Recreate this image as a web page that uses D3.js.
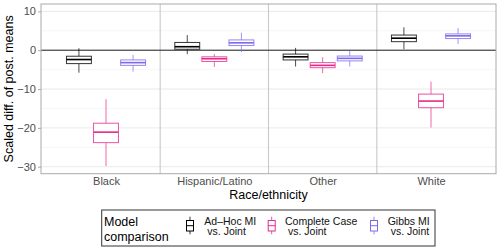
<!DOCTYPE html>
<html>
<head>
<meta charset="utf-8">
<script src="https://d3js.org/d3.v7.min.js"></script>
<style>
  body { margin: 0; background: #fff; }
  text { font-family: "Liberation Sans", Arial, sans-serif; }
</style>
</head>
<body>
<script>
    // categories and series
    var races = ["Black", "Hispanic/Latino", "Other", "White"];
    var models = ["Ad\u2013Hoc MI", "Complete Case", "Gibbs MI"];
    var modelColors = ["#000000", "#e7298a", "#7b68ee"];

    // box stats per race: [lower whisker, q1, median, q3, upper whisker]
    var adHoc = [[-5.8, -3.45, -2.4, -1.55, 0.5],
                 [-1.0, 0.25, 0.9, 2.0, 3.9],
                 [-4.2, -2.5, -1.7, -1.0, 0.6],
                 [0.25, 2.2, 3.1, 3.9, 5.9]];
    var completeCase = [[-29.8, -23.8, -21.1, -18.8, -12.6],
                        [-4.3, -2.9, -2.2, -1.7, -1.0],
                        [-5.9, -4.5, -3.9, -3.2, -1.8],
                        [-19.9, -14.8, -13.1, -11.3, -8.1]];
    var gibbs = [[-5.5, -3.9, -3.2, -2.5, -1.2],
                 [-0.5, 1.2, 1.9, 2.65, 4.5],
                 [-4.2, -2.75, -2.1, -1.5, -0.2],
                 [1.6, 3.0, 3.7, 4.2, 5.7]];
    var seriesStats = [adHoc, completeCase, gibbs];

    var yTicks = [-30, -20, -10, 0, 10];
    var yMinor = [-25, -15, -5, 5];

    var W = 500, H = 250;
    var pLeft = 41, pRight = 496, pTop = 4, pBottom = 173.7;

    var svg = d3.select("body").append("svg")
        .attr("width", W)
        .attr("height", H);

    var x = d3.scalePoint()
        .domain(races)
        .range([pLeft, pRight])
        .padding(0.6);
    var y = d3.scaleLinear()
        .domain([-31.8, 11.9])
        .range([pBottom, pTop]);

    var step = x.step();
    var dodge = d3.scaleBand().domain(models).range([-0.375 * step, 0.375 * step]);
    var boxW = 0.23 * step;

    // grid
    svg.append("g").selectAll("line").data(yMinor).enter().append("line")
        .attr("x1", pLeft).attr("x2", pRight)
        .attr("y1", function (d) { return y(d); })
        .attr("y2", function (d) { return y(d); })
        .style("stroke", "#f0f0f0").style("stroke-width", 0.6);
    svg.append("g").selectAll("line").data(yTicks).enter().append("line")
        .attr("x1", pLeft).attr("x2", pRight)
        .attr("y1", function (d) { return y(d); })
        .attr("y2", function (d) { return y(d); })
        .style("stroke", "#e3e3e3").style("stroke-width", 0.8);

    // separators between races
    svg.append("g").selectAll("line").data(races.slice(1)).enter().append("line")
        .attr("x1", function (d, i) { return (x(races[i]) + x(d)) / 2; })
        .attr("x2", function (d, i) { return (x(races[i]) + x(d)) / 2; })
        .attr("y1", pTop).attr("y2", pBottom)
        .style("stroke", "#c8c8c8").style("stroke-width", 1.1);

    // zero line
    svg.append("line")
        .attr("x1", pLeft).attr("x2", pRight)
        .attr("y1", y(0)).attr("y2", y(0))
        .style("stroke", "#222").style("stroke-width", 1);

    // boxes
    seriesStats.forEach(function (stats, s) {
        var col = modelColors[s];
        var g = svg.append("g");
        var cx = function (d, i) { return x(races[i]) + dodge(models[s]) + dodge.bandwidth() / 2; };
        var sel = g.selectAll("g").data(stats).enter().append("g");
        sel.append("line")
            .attr("x1", cx).attr("x2", cx)
            .attr("y1", function (d) { return y(d[4]); })
            .attr("y2", function (d) { return y(d[3]); })
            .style("stroke", col).style("stroke-opacity", 0.7).style("stroke-width", 1);
        sel.append("line")
            .attr("x1", cx).attr("x2", cx)
            .attr("y1", function (d) { return y(d[1]); })
            .attr("y2", function (d) { return y(d[0]); })
            .style("stroke", col).style("stroke-opacity", 0.7).style("stroke-width", 1);
        sel.append("rect")
            .attr("x", function (d, i) { return cx(d, i) - boxW / 2; })
            .attr("width", boxW)
            .attr("y", function (d) { return y(d[3]); })
            .attr("height", function (d) { return y(d[1]) - y(d[3]); })
            .style("fill", "#fff")
            .style("stroke", col).style("stroke-opacity", 0.8).style("stroke-width", 1);
        sel.append("line")
            .attr("x1", function (d, i) { return cx(d, i) - boxW / 2; })
            .attr("x2", function (d, i) { return cx(d, i) + boxW / 2; })
            .attr("y1", function (d) { return y(d[2]); })
            .attr("y2", function (d) { return y(d[2]); })
            .style("stroke", col).style("stroke-width", 1.6);
    });

    // panel border
    svg.append("rect")
        .attr("x", pLeft).attr("y", pTop)
        .attr("width", pRight - pLeft).attr("height", pBottom - pTop)
        .style("fill", "none").style("stroke", "#aaaaaa").style("stroke-width", 1);

    // axes
    var yAxis = svg.append("g")
        .attr("transform", "translate(" + pLeft + ",0)")
        .call(d3.axisLeft(y).tickValues(yTicks).tickSize(3).tickPadding(2)
            .tickFormat(function (d) { return d < 0 ? "\u2212" + Math.abs(d) : d; }));
    yAxis.select(".domain").remove();
    yAxis.selectAll("line").style("stroke", "#aaaaaa");
    yAxis.selectAll("text").style("fill", "#4d4d4d").style("font-size", "11px")
        .style("font-family", "Liberation Sans, Arial, sans-serif");

    var xAxis = svg.append("g")
        .attr("transform", "translate(0," + pBottom + ")")
        .call(d3.axisBottom(x).tickSize(0).tickPadding(4));
    xAxis.select(".domain").remove();
    xAxis.selectAll("text").style("fill", "#4d4d4d").style("font-size", "11px")
        .style("font-family", "Liberation Sans, Arial, sans-serif");

    svg.append("text")
        .text("Scaled diff. of post. means")
        .attr("transform", "translate(13," + ((pTop + pBottom) / 2) + ") rotate(-90)")
        .attr("text-anchor", "middle")
        .style("font-size", "12.5px");

    svg.append("text")
        .text("Race/ethnicity")
        .attr("x", (pLeft + pRight) / 2)
        .attr("y", 198.5)
        .attr("text-anchor", "middle")
        .style("font-size", "12.5px");

    // legend
    var legend = svg.append("g");
    legend.append("rect")
        .attr("x", 101.7).attr("y", 210)
        .attr("width", 333.3).attr("height", 36)
        .style("fill", "#fff").style("stroke", "#333").style("stroke-width", 1);
    legend.append("text").attr("x", 104).attr("y", 226).text("Model").style("font-size", "12.5px");
    legend.append("text").attr("x", 104).attr("y", 240.5).text("comparison").style("font-size", "12.5px");

    var keyX = [190, 271.7, 374];
    var labelX = [204.3, 285, 387.7];
    var labelLines = models.map(function (m) { return [m, "vs. Joint"]; });
    models.forEach(function (m, i) {
        var k = legend.append("g");
        var col = modelColors[i];
        k.append("line").attr("x1", keyX[i]).attr("x2", keyX[i]).attr("y1", 216.7).attr("y2", 234.3)
            .style("stroke", col).style("stroke-opacity", 0.8);
        k.append("rect").attr("x", keyX[i] - 3.5).attr("y", 220.5).attr("width", 7).attr("height", 10.5)
            .style("fill", "#fff").style("stroke", col).style("stroke-width", 1);
        k.append("line").attr("x1", keyX[i] - 3.5).attr("x2", keyX[i] + 3.5).attr("y1", 225.7).attr("y2", 225.7)
            .style("stroke", col).style("stroke-width", 1);
        k.append("text").attr("x", labelX[i]).attr("y", 224.5).text(labelLines[i][0]).style("font-size", "10.5px").style("fill", "#111");
        k.append("text").attr("x", labelX[i] + 3).attr("y", 235).text(labelLines[i][1]).style("font-size", "10.5px").style("fill", "#111");
    });
</script>
</body>
</html>
